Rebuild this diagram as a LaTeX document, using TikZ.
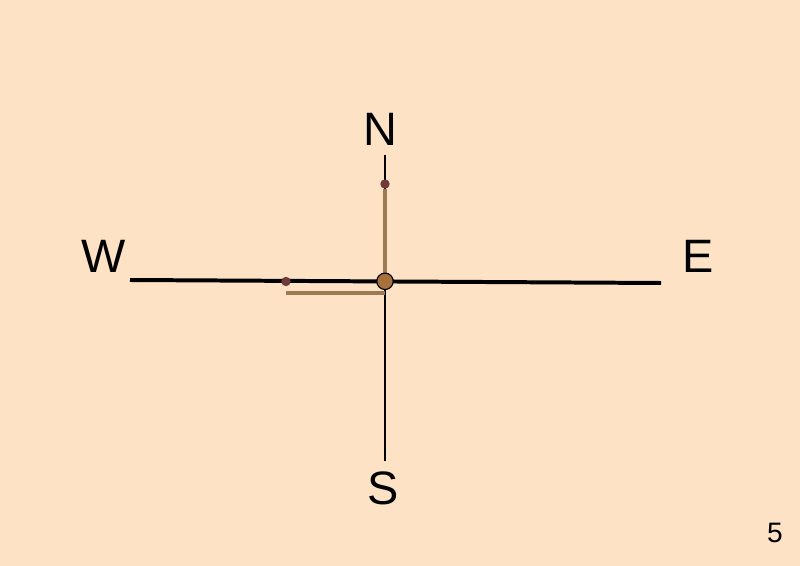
\documentclass[tikz,border=0pt]{standalone}
\usepackage{fontspec}
\setmainfont{Liberation Sans}
\definecolor{peach}{HTML}{FDE2C6}
\definecolor{stick}{HTML}{9C7A54}
\definecolor{pin}{HTML}{6E3A3A}
\definecolor{hub}{HTML}{A8703A}
\begin{document}
	\begin{tikzpicture}[x=0.03cm, y=-0.03cm,
		dir/.style={font=\fontsize{40}{40}\selectfont, inner sep=0pt},
		shadow/.style={stick, line width=3.6pt},
		pindot/.style={circle, fill=pin, inner sep=0pt, minimum size=8pt}]
	\fill[peach] (0,0) rectangle (800,566);
	\useasboundingbox (0,0) rectangle (800,566);
	\coordinate (north) at (385,155);
	\coordinate (south) at (385,461);
	\coordinate (west) at (130,280);
	\coordinate (east) at (661,283);
	\coordinate (centre) at (385,281.3);
	\coordinate (base) at (385,293);
	\coordinate (tip) at (286,293);
	\draw[line width=1.1pt] (north) -- (south);
	\draw[line width=3.4pt] (west) -- (east);
	\node[pindot] (np) at (385,184) {};
	\node[pindot] (wp) at (286,281.5) {};
	\draw[shadow] (centre) -- (np.south);
	\draw[shadow, line width=2.8pt] (tip) -- (base);
	\node[circle, draw=black, fill=hub, line width=1pt, inner sep=0pt, minimum size=14pt] (o) at (centre) {};
	\node[dir] (n) at (380,129) {N};
	\node[dir] (s) at (383,488) {S};
	\node[dir] (w) at (103.5,256.5) {W};
	\node[dir] (e) at (698,256.5) {E};
	\node[font=\fontsize{24}{24}\selectfont, inner sep=0pt] (page) at (775,533) {5};
	\end{tikzpicture}
\end{document}
